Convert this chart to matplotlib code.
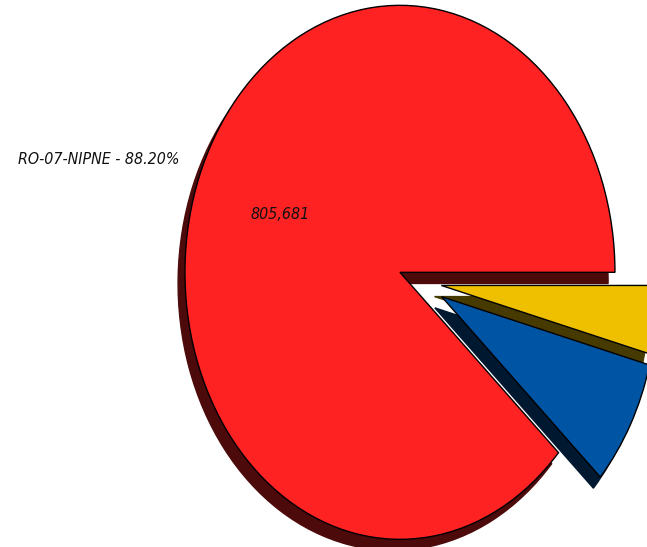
import matplotlib
matplotlib.use("Agg")
import matplotlib.pyplot as plt
from matplotlib.transforms import ScaledTranslation

labels = ["RO-07-NIPNE - 88.20%", "", ""]
values = [805681, 70200, 37600]
colors = ["#ff2222", "#0054a4", "#eec000"]
explode = [0.1, 0.115, 0.1]

total = sum(values)

def fmt(pct):
    v = int(round(pct * total / 100.0))
    return f"{v:,}" if pct > 50 else ""

W, H = 647, 547
cx, cy, rx, ry = 420, 282, 215, 267

fig = plt.figure(figsize=(W / 100, H / 100), dpi=100)
ax = fig.add_axes([(cx - rx) / W, (H - (cy + ry)) / H, 2 * rx / W, 2 * ry / H])
wedges, texts, autotexts = ax.pie(
    values, labels=labels, colors=colors, explode=explode,
    startangle=0, counterclock=True,
    shadow=dict(ox=-0.023, oy=-0.03, shade=0.7, alpha=1.0),
    autopct=fmt, pctdistance=0.6, labeldistance=1.1,
    wedgeprops=dict(edgecolor="black", linewidth=1.0),
    textprops=dict(fontsize=11.4, fontstyle="italic", fontstretch="condensed",
                   family="DejaVu Sans", color="#111111"),
)
texts[0].set_transform(ax.transData + ScaledTranslation(0, 6 / 100, fig.dpi_scale_trans))
ax.set_aspect("auto")
ax.set_xlim(-1, 1)
ax.set_ylim(-1, 1)
ax.axis("off")
fig.savefig("out.png", dpi=100)
